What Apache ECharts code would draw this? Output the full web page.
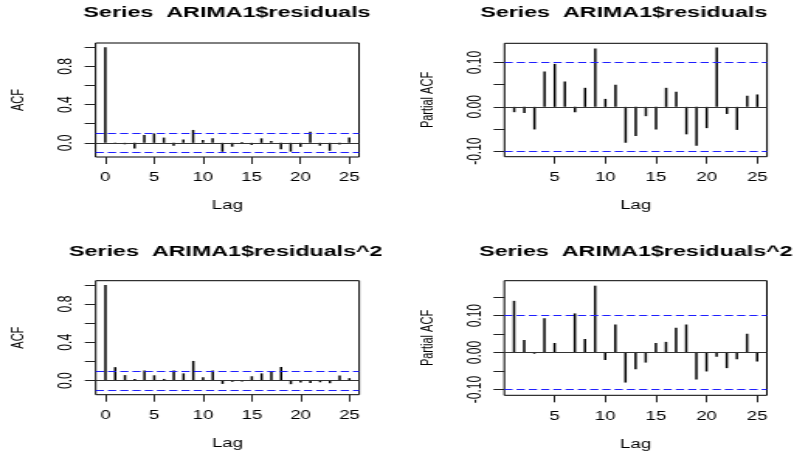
<!DOCTYPE html>
<html><head><meta charset="utf-8">
<script src="https://cdn.jsdelivr.net/npm/echarts@6/dist/echarts.min.js"></script>
<style>
html,body{margin:0;padding:0;background:#fff;overflow:hidden}
#wrap{width:794px;height:457px;overflow:hidden;position:relative}
#c{width:512px;height:457px;transform:scaleX(1.55078);transform-origin:0 0}
</style>
</head><body><div id="wrap"><div id="c"></div></div>
<script>
// ---- data ----
const lagsAcf = [0,1,2,3,4,5,6,7,8,9,10,11,12,13,14,15,16,17,18,19,20,21,22,23,24,25];
const lagsPacf = [1,2,3,4,5,6,7,8,9,10,11,12,13,14,15,16,17,18,19,20,21,22,23,24,25];
const acfRes = [1, -0.010, -0.015, -0.058, 0.083, 0.098, 0.055, -0.030, 0.036, 0.135, 0.030, 0.047, -0.093, -0.040, 0.010, -0.022, 0.047, 0.018, -0.068, -0.092, -0.042, 0.117, -0.030, -0.083, -0.018, 0.055];
const pacfRes = [-0.012, -0.014, -0.051, 0.080, 0.097, 0.057, -0.012, 0.043, 0.132, 0.018, 0.050, -0.081, -0.066, -0.021, -0.051, 0.043, 0.034, -0.062, -0.088, -0.048, 0.134, -0.016, -0.052, 0.025, 0.028];
const acfSq = [1, 0.140, 0.057, 0.015, 0.105, 0.055, 0.017, 0.105, 0.075, 0.205, 0.035, 0.105, -0.035, -0.012, -0.010, 0.045, 0.075, 0.092, 0.142, -0.038, -0.020, -0.025, -0.018, -0.028, 0.052, 0.025];
const pacfSq = [0.140, 0.034, -0.003, 0.093, 0.026, 0.001, 0.106, 0.037, 0.181, -0.020, 0.076, -0.081, -0.045, -0.027, 0.026, 0.029, 0.067, 0.076, -0.073, -0.051, -0.011, -0.042, -0.018, 0.051, -0.024];
const ciBound = 0.104;
const xTicksAcf = [0,5,10,15,20,25];
const xTicksPacf = [5,10,15,20,25];
const yTicksAcf = [0,0.2,0.4,0.6,0.8,1.0];
const yLabelsAcf = [0,0.4,0.8];
const yTicksPacfRes = [-0.10,-0.05,0,0.05,0.10];
const yTicksPacfSq = [-0.10,-0.05,0,0.05,0.10,0.15];
const yLabelsPacf = [-0.10,0,0.10];
const titles = ['Series  ARIMA1$residuals','Series  ARIMA1$residuals','Series  ARIMA1$residuals^2','Series  ARIMA1$residuals^2'];
const yNames = ['ACF','Partial ACF','ACF','Partial ACF'];
const xName = 'Lag';

// ---- layout (chart coords, container is stretched horizontally) ----
const FONT = "'Liberation Sans', Arial, sans-serif";
const panels = [
  {lags: lagsAcf, vals: acfRes, grid:{left:61.6, top:43, width:169.9, height:114}, xmin:-1, xmax:26, xt:xTicksAcf, yt:yTicksAcf, yl:yLabelsAcf, ymin:-0.148, ymax:1.044, dec:1, title:{x:146.4, y:5}},
  {lags: lagsPacf, vals: pacfRes, grid:{left:325.3, top:43.3, width:169.3, height:113.4}, xmin:0.04, xmax:25.96, xt:xTicksPacf, yt:yTicksPacfRes, yl:yLabelsPacf, ymin:-0.1125, ymax:0.1435, dec:2, title:{x:402.2, y:5}},
  {lags: lagsAcf, vals: acfSq, grid:{left:61.7, top:280.7, width:169.9, height:114}, xmin:-1, xmax:26, xt:xTicksAcf, yt:yTicksAcf, yl:yLabelsAcf, ymin:-0.148, ymax:1.044, dec:1, title:{x:145.6, y:244.5}},
  {lags: lagsPacf, vals: pacfSq, grid:{left:325.2, top:280.7, width:169.3, height:114.6}, xmin:0.04, xmax:25.96, xt:xTicksPacf, yt:yTicksPacfSq, yl:yLabelsPacf, ymin:-0.1155, ymax:0.1945, dec:2, title:{x:410.0, y:244.5}}
];

const option = {animation:false, backgroundColor:'#fff', title:[], grid:[], xAxis:[], yAxis:[], series:[]};
panels.forEach((p, i) => {
  option.title.push({text: titles[i], left: p.title.x, top: p.title.y, textAlign:'center', padding:0,
    textStyle:{fontFamily:FONT, fontSize:15, fontWeight:'bold', color:'#000'}});
  option.grid.push(Object.assign({show:true, borderColor:'#000', borderWidth:1, backgroundColor:'transparent', containLabel:false}, p.grid));
  option.xAxis.push({type:'value', gridIndex:i, min:p.xmin, max:p.xmax,
    name:xName, nameLocation:'middle', nameGap:43, nameTextStyle:{fontFamily:FONT, fontSize:12, color:'#000'},
    axisLine:{show:false, onZero:false}, splitLine:{show:false},
    axisTick:{show:true, length:7, customValues:p.xt, lineStyle:{color:'#222', width:1}},
    axisLabel:{customValues:p.xt, margin:15, fontFamily:FONT, fontSize:12, color:'#000'}});
  option.yAxis.push({type:'value', gridIndex:i, min:p.ymin, max:p.ymax,
    name:yNames[i], nameLocation:'middle', nameRotate:90, nameGap:44, nameTextStyle:{fontFamily:FONT, fontSize:11, color:'#000'},
    axisLine:{show:false, onZero:false}, splitLine:{show:false},
    axisTick:{show:true, length:7, customValues:p.yt, lineStyle:{color:'#222', width:1}},
    axisLabel:{customValues:p.yl, rotate:90, margin:13, fontFamily:FONT, fontSize:12, color:'#000',
      formatter: v => Number(v).toFixed(p.dec)}});
  // zero line
  option.series.push({type:'custom', xAxisIndex:i, yAxisIndex:i, silent:true, data:[],
    renderItem: () => null,
    markLine:{silent:true, symbol:['none','none'], label:{show:false}, animation:false,
      lineStyle:{color:'#333', type:'solid', width:1},
      data:[{yAxis:0}]}});
  // confidence bounds
  option.series.push({type:'custom', xAxisIndex:i, yAxisIndex:i, silent:true, data:[],
    renderItem: () => null,
    markLine:{silent:true, symbol:['none','none'], label:{show:false}, animation:false,
      lineStyle:{color:'#1f1fff', type:[5.3,2.6], width:1},
      data:[{yAxis:ciBound},{yAxis:-ciBound}]}});
  // correlation spikes
  option.series.push({type:'custom', xAxisIndex:i, yAxisIndex:i, silent:true,
    data: p.lags.map((l, k) => [l, p.vals[k]]),
    renderItem: (params, api) => {
      const a = api.coord([api.value(0), 0]);
      const b = api.coord([api.value(0), api.value(1)]);
      return {type:'line', shape:{x1:a[0], y1:a[1], x2:b[0], y2:b[1]}, style:{stroke:'#000', lineWidth:1.5}};
    }});
});
const chart = echarts.init(document.getElementById('c'));
chart.setOption(option);
</script>
</body></html>
